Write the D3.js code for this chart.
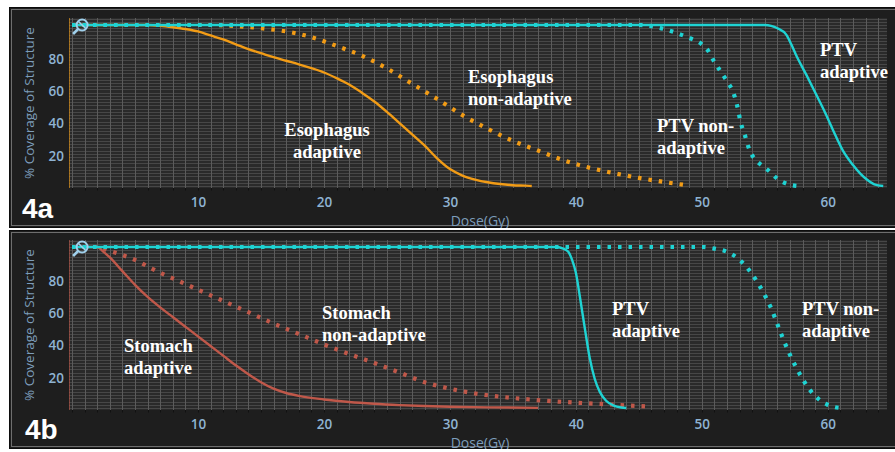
<!DOCTYPE html>
<html><head><meta charset="utf-8">
<script src="https://cdn.jsdelivr.net/npm/d3@7"></script>
<style>body{margin:0;background:#fff}svg{display:block}</style>
</head><body>
<svg id="c" width="895" height="452"></svg>
<script>
// ---------- DATA ----------
const doseTicks = [10, 20, 30, 40, 50, 60];
const pctTicks = [20, 40, 60, 80];
const xTitle = "Dose(Gy)";
const yTitle = "% Coverage of Structure";

// Panel 4a
const esophagusAdaptive = [[0,100],[6,100],[7,99.5],[8,98.6],[9,97.5],[10,96],[11,93.5],[12,91],[13,88],[14,85],[15,82.5],[16,80],[17,77.8],[18,75.6],[19,73.2],[20,70.5],[21,67],[22,63],[23,58],[24,52.5],[25,46],[26,39],[27,32],[28,25],[29,17],[30,10.5],[31,6.5],[32,4],[33,2.3],[34,1.2],[35,0.5],[36,0.2],[36.5,0]];
const esophagusNonAdaptive = [[0,100],[11,100],[13,99.3],[15,98],[17,96],[19,92.5],[21,87],[23,81],[25,73],[27,63.5],[29,54],[31,44],[33,35.5],[35,28],[37,22],[39,16],[41,11.5],[43,8],[45,5],[47,2.5],[48.5,0.8]];
const ptvNonAdaptiveA = [[0,100],[45,100],[46,99.3],[47,97.5],[48,95],[49,92],[50,88],[50.5,84],[51,77],[51.5,71],[52,65],[52.5,58],[52.8,50],[53.1,39],[53.4,32],[53.8,22],[54.3,16],[54.8,12.5],[55.3,9.5],[56,4.5],[56.8,1.2],[57.6,0]];
const ptvAdaptiveA = [[0,100],[55,100],[55.5,99.5],[56,98],[56.7,94],[57.1,88],[57.5,81],[58.3,69],[59.1,56.5],[59.7,47],[60.4,35],[61.2,22],[62,13],[62.6,7.5],[63.1,4],[63.7,1],[64.4,0]];

// Panel 4b
const stomachAdaptive = [[0,100],[2,100],[2.5,97],[3,93.5],[4,85],[5,76.5],[6,69],[7,62.5],[8,56.5],[9,50.5],[10,44.5],[11,38.5],[12,32.5],[13,26.5],[14,21],[15,16],[16,12],[17,9.3],[18,7.5],[20,5.3],[22,3.7],[24,2.6],[26,1.8],[28,1.2],[30,0.8],[33,0.4],[37,0.1]];
const stomachNonAdaptive = [[0,100],[2,100],[3,97.5],[4,95],[5,92],[6,88],[7,84],[8,80.5],[9,77],[10,73.5],[12,66.5],[14,59.5],[16,52.5],[18,46],[20,39.5],[22,33.5],[24,28],[26,22],[28,16],[30,12],[32,9],[34,7],[36,5.5],[38,4.3],[40,3.3],[42,2.5],[44,1.6],[46,0.8]];
const ptvAdaptiveB = [[0,100],[38.5,100],[39,99],[39.4,97],[39.7,92],[40,84],[40.3,70],[40.7,50],[41.1,31],[41.5,18],[41.9,10],[42.4,4.5],[43,1.5],[43.6,0.3],[44,0]];
const ptvNonAdaptiveB = [[0,100],[50,100],[51,99],[52,97],[53,92],[54,83],[55,70],[55.5,62],[56,52],[56.5,42],[57,33],[57.5,25],[58,18],[58.5,12],[59,7.5],[59.5,4],[60,2],[60.5,0.6],[61,0]];

const labelsA = [
  {lines:["Esophagus","non-adaptive"], x:468, y:83, anchor:"start"},
  {lines:["Esophagus","adaptive"], x:327, y:136, anchor:"middle"},
  {lines:["PTV non-","adaptive"], x:657, y:132, anchor:"start"},
  {lines:["PTV","adaptive"], x:820, y:56, anchor:"start"}
];
const labelsB = [
  {lines:["Stomach","non-adaptive"], x:322, y:319, anchor:"start"},
  {lines:["Stomach","adaptive"], x:124, y:352, anchor:"start"},
  {lines:["PTV","adaptive"], x:612, y:315, anchor:"start"},
  {lines:["PTV non-","adaptive"], x:802, y:315, anchor:"start"}
];

// ---------- STYLE ----------
const ORANGE = "#f29c16", CYAN = "#1fd3d3", RED = "#c0584a";
const TICKC = "#8fb3d2", TITLEC = "#7d9dbb";

const svg = d3.select("#c");

const panels = [
  {name:"4a", top:7, h:221, plotTop:18, plotBottom:188, nameY:218, nameX:22,
   axisColor:ORANGE,
   series:[
     {d:esophagusNonAdaptive, c:ORANGE, dot:true},
     {d:esophagusAdaptive, c:ORANGE, dot:false},
     {d:ptvNonAdaptiveA, c:CYAN, dot:true},
     {d:ptvAdaptiveA, c:CYAN, dot:false}
   ], labels:labelsA},
  {name:"4b", top:230, h:219, plotTop:240, plotBottom:410, nameY:439, nameX:25,
   axisColor:RED,
   series:[
     {d:stomachNonAdaptive, c:RED, dot:true},
     {d:stomachAdaptive, c:RED, dot:false},
     {d:ptvNonAdaptiveB, c:CYAN, dot:true},
     {d:ptvAdaptiveB, c:CYAN, dot:false}
   ], labels:labelsB}
];

const plotLeft = 69, plotRight = 887;

panels.forEach((p, i) => {
  const g = svg.append("g");
  const clipId = "clip" + i, pclipId = "pclip" + i;
  svg.append("clipPath").attr("id", clipId).append("rect")
    .attr("x", 9).attr("y", p.top).attr("width", 900).attr("height", p.h);
  g.attr("clip-path", `url(#${clipId})`);

  // panel frame
  g.append("rect").attr("x", 9).attr("y", p.top).attr("width", 900).attr("height", p.h)
    .attr("fill", "#1e1e1e").attr("stroke", "#0c0c0c").attr("stroke-width", 2);
  g.append("rect").attr("x", 11.5).attr("y", p.top + 2.5).attr("width", 900).attr("height", p.h - 5)
    .attr("fill", "none").attr("stroke", "#6e6e6e").attr("stroke-width", 1);

  const x = d3.scaleLinear().domain([-0.24, 64.7]).range([plotLeft, plotRight]);
  const y = d3.scaleLinear().domain([-1.25, 104.35]).range([p.plotBottom, p.plotTop]);

  // plot background
  g.append("rect").attr("x", plotLeft).attr("y", p.plotTop)
    .attr("width", plotRight - plotLeft).attr("height", p.plotBottom - p.plotTop)
    .attr("fill", "#2a2a2a");

  // horizontal grid
  const hg = d3.range(0, 105, 2);
  g.append("g").selectAll("line").data(hg).join("line")
    .attr("x1", plotLeft).attr("x2", plotRight)
    .attr("y1", d => Math.round(y(d)) + 0.5).attr("y2", d => Math.round(y(d)) + 0.5)
    .attr("stroke", "#474747").attr("stroke-width", 1);
  // vertical grid
  const vg = d3.range(0, 65, 1);
  g.append("g").selectAll("line").data(vg).join("line")
    .attr("x1", d => Math.round(x(d)) + 0.5).attr("x2", d => Math.round(x(d)) + 0.5)
    .attr("y1", p.plotTop).attr("y2", p.plotBottom)
    .attr("stroke", "#5c5c5c").attr("stroke-width", 1);

  // x axis small ticks
  g.append("g").selectAll("line").data(vg).join("line")
    .attr("x1", d => Math.round(x(d)) + 0.5).attr("x2", d => Math.round(x(d)) + 0.5)
    .attr("y1", p.plotBottom).attr("y2", p.plotBottom + 2.5)
    .attr("stroke", "#111").attr("stroke-width", 1);

  // left axis line in structure colour
  g.append("line").attr("x1", plotLeft + 0.5).attr("x2", plotLeft + 0.5)
    .attr("y1", p.plotTop).attr("y2", p.plotBottom)
    .attr("stroke", p.axisColor).attr("stroke-opacity", 0.6).attr("stroke-width", 1);

  // axes tick labels via d3 axes
  const xAxis = d3.axisBottom(x).tickValues(doseTicks).tickSize(0).tickPadding(0).tickFormat(d3.format("d"));
  const xa = g.append("g").attr("transform", `translate(0,${p.plotBottom + 9})`).call(xAxis);
  xa.select(".domain").remove();
  xa.selectAll("text").attr("fill", TICKC).attr("font-family", "Open Sans, sans-serif")
    .attr("font-weight", 600).attr("font-size", 13.5).attr("dy", "0.75em");

  const yAxis = d3.axisLeft(y).tickValues(pctTicks).tickSize(0).tickPadding(0).tickFormat(d3.format("d"));
  const ya = g.append("g").attr("transform", `translate(${plotLeft - 5},2)`).call(yAxis);
  ya.select(".domain").remove();
  ya.selectAll("text").attr("fill", TICKC).attr("font-family", "Open Sans, sans-serif")
    .attr("font-weight", 600).attr("font-size", 13.5);

  // axis titles
  g.append("text").attr("x", 480).attr("y", p.plotBottom + 38).attr("text-anchor", "middle")
    .attr("fill", TITLEC).attr("font-family", "Open Sans, sans-serif").attr("font-size", 14)
    .text(xTitle);
  g.append("text").attr("transform", `translate(34,${(p.plotTop + p.plotBottom) / 2}) rotate(-90)`)
    .attr("text-anchor", "middle").attr("fill", TITLEC)
    .attr("font-family", "Open Sans, sans-serif").attr("font-size", 13.5)
    .text(yTitle);

  // curves
  svg.append("clipPath").attr("id", pclipId).append("rect")
    .attr("x", plotLeft).attr("y", p.plotTop - 4).attr("width", plotRight - plotLeft).attr("height", p.plotBottom - p.plotTop + 4);
  const cg = g.append("g").attr("clip-path", `url(#${pclipId})`);
  const line = d3.line().x(d => x(d[0])).y(d => y(d[1])).curve(d3.curveMonotoneX);
  p.series.forEach(s => {
    cg.append("path").attr("d", line(s.d)).attr("fill", "none")
      .attr("stroke", s.c)
      .attr("stroke-width", s.dot ? 4.2 : 2.4)
      .attr("stroke-dasharray", s.dot ? "3.5,7" : null)
      .attr("stroke-linejoin", "round");
  });

  // magnifier icon
  const mx = x(0.8), my = y(100);
  const ic = g.append("g").attr("stroke", "#9fd0ec").attr("fill", "none").attr("stroke-width", 2);
  ic.append("circle").attr("cx", mx).attr("cy", my).attr("r", 5.5);
  ic.append("line").attr("x1", mx - 3.8).attr("y1", my - 3.8).attr("x2", mx + 3.8).attr("y2", my + 3.8).attr("stroke-width", 1.6);
  ic.append("line").attr("x1", mx - 4).attr("y1", my + 4).attr("x2", mx - 9).attr("y2", my + 9).attr("stroke-width", 2.6);

  // curve labels
  p.labels.forEach(l => {
    const t = g.append("text").attr("x", l.x).attr("y", l.y).attr("text-anchor", l.anchor)
      .attr("fill", "#fff").attr("font-family", "Liberation Serif, Times New Roman, serif")
      .attr("font-weight", "bold").attr("font-size", 18.5);
    l.lines.forEach((s, k) => t.append("tspan").attr("x", l.x).attr("dy", k ? 22 : 0).text(s));
  });

  // panel name
  g.append("text").attr("x", p.nameX).attr("y", p.nameY).attr("fill", "#fff")
    .attr("font-family", "Liberation Sans, Arial, sans-serif").attr("font-weight", "bold")
    .attr("font-size", 28).text(p.name);
});
</script>
</body></html>
